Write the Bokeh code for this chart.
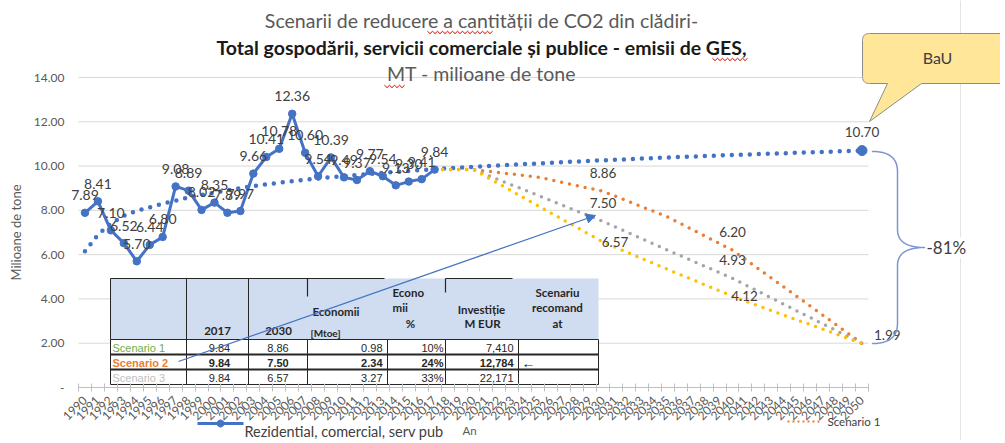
import numpy as np
from math import pi
from bokeh.plotting import figure
from bokeh.models import (Range1d, FixedTicker, PrintfTickFormatter, Label, LinearAxis,
                          PolyAnnotation, Arrow, NormalHead)
from bokeh.core.properties import value
from bokeh.embed import file_html
from bokeh.resources import INLINE

# ---------------- data ----------------
hist_years = list(range(1990, 2018))
hist_values = [7.89, 8.41, 7.10, 6.52, 5.70, 6.44, 6.80, 9.08, 8.89, 8.02,
               8.35, 7.89, 7.97, 9.66, 10.41, 10.78, 12.36, 10.60, 9.54, 10.39,
               9.49, 9.37, 9.77, 9.54, 9.13, 9.30, 9.41, 9.84]

bau_years = [1990, 1991, 1992, 1993, 1994, 1996, 1998, 2000, 2003, 2006, 2009,
             2012, 2015, 2018, 2022, 2026, 2030, 2035, 2040, 2045, 2050]
bau_values = [6.15, 6.90, 7.40, 7.75, 7.98, 8.30, 8.58, 8.80, 9.10, 9.32, 9.50,
              9.65, 9.78, 9.90, 10.03, 10.15, 10.26, 10.39, 10.50, 10.60, 10.70]

scen_years = [2017, 2018, 2019, 2020, 2025, 2030, 2035, 2040, 2045, 2050]
scen1_values = [9.84, 9.84, 9.84, 9.84, 9.50, 8.86, 7.70, 6.20, 4.10, 1.99]
scen2_values = [9.84, 9.84, 9.84, 9.84, 8.67, 7.50, 6.20, 4.93, 3.45, 1.99]
scen3_values = [9.84, 9.84, 9.84, 9.84, 8.20, 6.57, 5.33, 4.12, 3.05, 1.99]
scen_label_years = [2030, 2040]

x_years = list(range(1990, 2051))
y_ticks = [0, 2, 4, 6, 8, 10, 12, 14]

title_lines = ["Scenarii de reducere a cantității de CO2 din clădiri-",
               "Total gospodării, servicii comerciale și publice - emisii de GES,",
               "MT - milioane de tone"]
y_title = "Milioane de tone"
x_title = "An"
legend_hist = "Rezidential, comercial, serv pub"
legend_scen1 = "Scenario 1"
callout_text = "BaU"
reduction_text = "-81%"

table_rows = ["Scenario 1", "Scenario 2", "Scenario 3"]
tbl_2017 = [9.84, 9.84, 9.84]
tbl_2030 = [8.86, 7.50, 6.57]
tbl_econ = [0.98, 2.34, 3.27]
tbl_econ_pct = [10, 24, 33]
tbl_invest = [7410, 12784, 22171]
tbl_recommend = ["", "\u2190", ""]
tbl_header = ["2017", "2030", "Economii", "[Mtoe]", "Econo", "mii", "%",
              "Investiție", "M EUR", "Scenariu", "recomand", "at"]

# ---------------- style / layout ----------------
FONT = "Lato"
BLUE, ORANGE, GRAY, YELLOW = "#4472C4", "#ED7D31", "#A5A5A5", "#FFC000"
TXT = "#404040"
AX = "#595959"

W, H = 1000, 440                # canvas (drawn at the page's top-left corner)
X0, X1 = 1989.5, 2050.5         # category band edges
Y0, Y1 = 0.0, 14.0
PL, PR, PT, PB = 78, 868, 77, 387   # plot area in picture px

PX_X = (X1 - X0) / (PR - PL)    # data units per px
PX_Y = (Y1 - Y0) / (PB - PT)


def dx(px):
    return X0 + (px - PL) * PX_X


def dy(py):
    return Y0 + (PB - py) * PX_Y


def qbez(p0, p1, p2, n=14):
    t = np.linspace(0, 1, n)
    xs = (1 - t) ** 2 * p0[0] + 2 * (1 - t) * t * p1[0] + t ** 2 * p2[0]
    ys = (1 - t) ** 2 * p0[1] + 2 * (1 - t) * t * p1[1] + t ** 2 * p2[1]
    return list(zip(xs, ys))


def poly(pts, **kw):
    kw.setdefault("line_alpha", 1.0)
    kw.setdefault("fill_alpha", 0.0)
    return PolyAnnotation(xs=[dx(a) for a, b in pts], ys=[dy(b) for a, b in pts], **kw)


def squiggle(x_start, x_end, yy):
    n = int((x_end - x_start) / 2.5)
    pts = [(x_start + k * 2.5, yy + (1.2 if k % 2 else -1.2)) for k in range(n + 1)]
    return poly(pts + pts[::-1], line_color="#E0453A", line_width=0.9)


p = figure(width=W, height=H, x_range=Range1d(dx(0), dx(W)), y_range=Range1d(dy(H), dy(0)),
           output_backend="svg", toolbar_location=None,
           x_axis_location=None, y_axis_location=None, min_border=0)
p.outline_line_color = None
p.background_fill_color = "white"
p.border_fill_color = "white"
p.grid.visible = False

# gridlines of the plot area
p.segment(x0=X0, x1=X1, y0=y_ticks[1:], y1=y_ticks[1:], line_color="#D9D9D9", line_width=1)

xa = LinearAxis(fixed_location=Y0, bounds=(X0, X1))
xa.ticker = FixedTicker(ticks=x_years, minor_ticks=[y - 0.5 for y in x_years] + [x_years[-1] + 0.5])
xa.major_tick_line_color = None
xa.major_tick_in = 0
xa.major_tick_out = 0
xa.minor_tick_line_color = "#BFBFBF"
xa.minor_tick_in = 4
xa.minor_tick_out = 4
xa.axis_line_color = "#BFBFBF"
xa.major_label_orientation = pi / 4
xa.major_label_text_font = FONT
xa.major_label_text_font_size = "12px"
xa.major_label_text_color = AX
xa.major_label_standoff = 7
p.add_layout(xa, "below")

ya = LinearAxis(fixed_location=X0, bounds=(Y0, Y1))
ya.ticker = FixedTicker(ticks=y_ticks)
ya.formatter = PrintfTickFormatter(format="%.2f")
ya.major_label_overrides = {0: "-"}
ya.axis_line_color = None
ya.major_tick_line_color = None
ya.minor_tick_line_color = None
ya.major_tick_in = 0
ya.major_tick_out = 0
ya.major_label_standoff = 14
ya.major_label_text_font = FONT
ya.major_label_text_font_size = "12px"
ya.major_label_text_color = AX
ya.axis_label = y_title
ya.axis_label_text_font = FONT
ya.axis_label_text_font_size = "13px"
ya.axis_label_text_font_style = "normal"
ya.axis_label_text_color = AX
ya.axis_label_standoff = 7
p.add_layout(ya, "left")

# ---------------- table (behind series) ----------------
col_edges = [110, 186, 248, 307, 387, 445, 518, 598]
hdr_top, hdr_bot = 278, 339
row_edges = [339, 354, 369, 384]

p.quad(left=dx(col_edges[0]), right=dx(col_edges[-1]), top=dy(hdr_top), bottom=dy(hdr_bot),
       fill_color="#D0DCF0", line_color=None)
p.quad(left=dx(col_edges[0]), right=dx(col_edges[-1]), top=dy(row_edges[0]), bottom=dy(row_edges[-1]),
       fill_color="white", line_color=None)

seg = []
for i, yy in enumerate(row_edges):
    seg.append((col_edges[0], yy, col_edges[-1], yy, 1.8 if i in (1, 2) else 1.0))
for xx in col_edges:
    seg.append((xx, row_edges[0], xx, row_edges[-1], 1.0))
for xx in col_edges[:3]:
    seg.append((xx, hdr_top, xx, hdr_bot, 1.0))
seg.append((col_edges[3], hdr_top, col_edges[3], 296, 1.2))
seg.append((col_edges[5], hdr_top, col_edges[5], 292, 1.2))
seg.append((col_edges[0], hdr_top, 384, hdr_top, 1.2))
seg.append((445, hdr_top, 512, hdr_top, 1.2))
p.segment(x0=[dx(s[0]) for s in seg], y0=[dy(s[1]) for s in seg],
          x1=[dx(s[2]) for s in seg], y1=[dy(s[3]) for s in seg],
          line_color="#262626", line_width=[s[4] for s in seg])

# ---------------- series ----------------
p.line(bau_years, bau_values, line_color=BLUE, line_width=4.5, line_dash="0 9", line_cap="round")
p.line(scen_years, scen1_values, line_color=ORANGE, line_width=3.5, line_dash="0 8", line_cap="round")
p.line(scen_years, scen2_values, line_color=GRAY, line_width=3.5, line_dash="0 8", line_cap="round")
p.line(scen_years, scen3_values, line_color=YELLOW, line_width=3.5, line_dash="0 8", line_cap="round")
p.line(hist_years, hist_values, line_color=BLUE, line_width=3)
p.scatter(hist_years, hist_values, size=7.5, color=BLUE)
p.scatter([bau_years[-1]], [bau_values[-1]], size=10, color=BLUE)

# data labels
p.text(x=hist_years, y=[v + 17.5 * PX_Y for v in hist_values],
       text=[f"{v:.2f}" for v in hist_values], text_align="center", text_baseline="middle",
       text_font=value(FONT), text_font_size="14px", text_color=TXT)

lx, ly, lt, la = [], [], [], []
for yr in scen_label_years:
    i = scen_years.index(yr)
    for vals in (scen1_values, scen2_values):
        lx.append(yr); ly.append(vals[i] + 18.5 * PX_Y); lt.append(f"{vals[i]:.2f}"); la.append("center")
    lx.append(yr + 12 * PX_X); ly.append(scen3_values[i]); lt.append(f"{scen3_values[i]:.2f}"); la.append("center")
lx.append(bau_years[-1]); ly.append(bau_values[-1] + 19 * PX_Y); lt.append(f"{bau_values[-1]:.2f}"); la.append("center")
lx.append(scen_years[-1] + 12 * PX_X); ly.append(scen1_values[-1] + 8 * PX_Y); lt.append(f"{scen1_values[-1]:.2f}"); la.append("left")
p.text(x=lx, y=ly, text=lt, text_align=la, text_baseline="middle",
       text_font=value(FONT), text_font_size="13.5px", text_color=TXT)

# table texts
row_mid = [(row_edges[i] + row_edges[i + 1]) / 2 for i in range(3)]
row_colors = ["#70AD47", ORANGE, "#BFBFBF"]
for r in range(3):
    style = "bold" if r == 1 else "normal"
    cells = [
        (table_rows[r], col_edges[0] + 2, "left", row_colors[r], "11px"),
        (f"{tbl_2017[r]:.2f}", (col_edges[1] + col_edges[2]) / 2 + 2, "center", "#262626", "11px"),
        (f"{tbl_2030[r]:.2f}", (col_edges[2] + col_edges[3]) / 2, "center", "#262626", "11px"),
        (f"{tbl_econ[r]:.2f}", col_edges[4] - 5, "right", "#262626", "11px"),
        (f"{tbl_econ_pct[r]}%", col_edges[5] - 2, "right", "#262626", "11px"),
        (f"{tbl_invest[r]:,}", col_edges[6] - 5, "right", "#262626", "11px"),
        (tbl_recommend[r], col_edges[6] + 3, "left", "#262626", "14px"),
    ]
    for txt, px, al, colr, fs in cells:
        if txt:
            p.add_layout(Label(x=dx(px), y=dy(row_mid[r] + 0.5), text=txt, text_align=al,
                               text_baseline="middle", text_font="Liberation Sans",
                               text_font_size=fs, text_font_style=style, text_color=colr))

hdr_pos = [(217, 330, "center"), (278, 330, "center"), (312, 311, "left"), (310, 332, "left"),
           (392, 292, "left"), (392, 307, "left"), (410, 323, "center"),
           (481, 309, "center"), (482, 323, "center"),
           (557, 292, "center"), (557, 307, "center"), (557, 323, "center")]
for txt, (px, py, al) in zip(tbl_header, hdr_pos):
    p.add_layout(Label(x=dx(px), y=dy(py), text=txt, text_align=al, text_baseline="middle",
                       text_font=FONT, text_font_size="10px" if txt == "[Mtoe]" else "11.5px",
                       text_font_style="bold", text_color="#262626"))

# arrow from table to scenario 2
p.add_layout(Arrow(x_start=dx(178), y_start=dy(361), x_end=dx(595), y_end=dy(215),
                   line_color=BLUE, line_width=1.3,
                   end=NormalHead(size=9, fill_color=BLUE, line_color=BLUE)))

# ---------------- decorations outside plot area ----------------
p.add_layout(poly([(960, 0), (960, 445)], line_color="#E3E3E3", line_width=1))

# BaU callout
L, R, T, B, r = 862, 1012, 33, 83, 7
pts = qbez((L, T + r), (L, T), (L + r, T)) + [(R, T), (R, B), (921, B), (869, 121), (887, B)] \
    + qbez((L + r, B), (L, B), (L, B - r))
p.add_layout(poly(pts, fill_color="#FFE699", fill_alpha=1, line_color="#8C8C8C", line_width=1))
p.add_layout(Label(x=dx(937), y=dy(57), text=callout_text, text_align="center", text_baseline="middle",
                   text_font=FONT, text_font_size="16px", text_color=TXT))

# brace
bx, top, bot, tip = 897, 151, 343, 924
mid = (top + bot) / 2
fw = qbez((872, top), (bx, top), (bx, top + 20)) + [(bx, mid - 18)] + \
    qbez((bx, mid - 18), (bx, mid), (tip, mid)) + qbez((tip, mid), (bx, mid), (bx, mid + 18)) + \
    [(bx, bot - 20)] + qbez((bx, bot - 20), (bx, bot), (872, bot))
p.add_layout(poly(fw + fw[::-1], line_color="#7B96CF", line_width=1.5, line_join="round"))
p.add_layout(Label(x=dx(926), y=dy(mid), text=reduction_text, text_align="left", text_baseline="middle",
                   text_font=FONT, text_font_size="17px", text_color=TXT, background_fill_color="white"))

# titles
for i, (txt, py) in enumerate(zip(title_lines, [20, 47, 73])):
    p.add_layout(Label(x=dx(481), y=dy(py), text=txt, text_align="center", text_baseline="middle",
                       text_font=FONT, text_font_size="19.5px",
                       text_font_style="bold" if i == 1 else "normal",
                       text_color="#1A1A1A" if i == 1 else AX))
# spell-check squiggles seen in the source image
p.add_layout(squiggle(427, 492, 32))
p.add_layout(squiggle(712, 749, 59))
p.add_layout(squiggle(384, 404, 86))

# legend (bottom)
p.add_layout(poly([(197, 423), (243, 423)], line_color=BLUE, line_width=3))
ang = np.linspace(0, 2 * pi, 16)
p.add_layout(poly(list(zip(220 + 3.5 * np.cos(ang), 423 + 3.5 * np.sin(ang))),
                  fill_color=BLUE, fill_alpha=1, line_color=BLUE))
p.add_layout(Label(x=dx(244), y=dy(431), text=legend_hist, text_align="left", text_baseline="middle",
                   text_font=FONT, text_font_size="14.5px", text_color=TXT))
p.add_layout(Label(x=dx(462), y=dy(430), text=x_title, text_align="left", text_baseline="middle",
                   text_font=FONT, text_font_size="11.5px", text_color=AX))
p.add_layout(poly([(787, 421), (822, 421)], line_color=ORANGE, line_width=2, line_dash="2 3"))
p.add_layout(Label(x=dx(827), y=dy(421), text=legend_scen1, text_align="left", text_baseline="middle",
                   text_font=FONT, text_font_size="11.5px", text_color=TXT))

open("out.html", "w").write(file_html(p, INLINE))
